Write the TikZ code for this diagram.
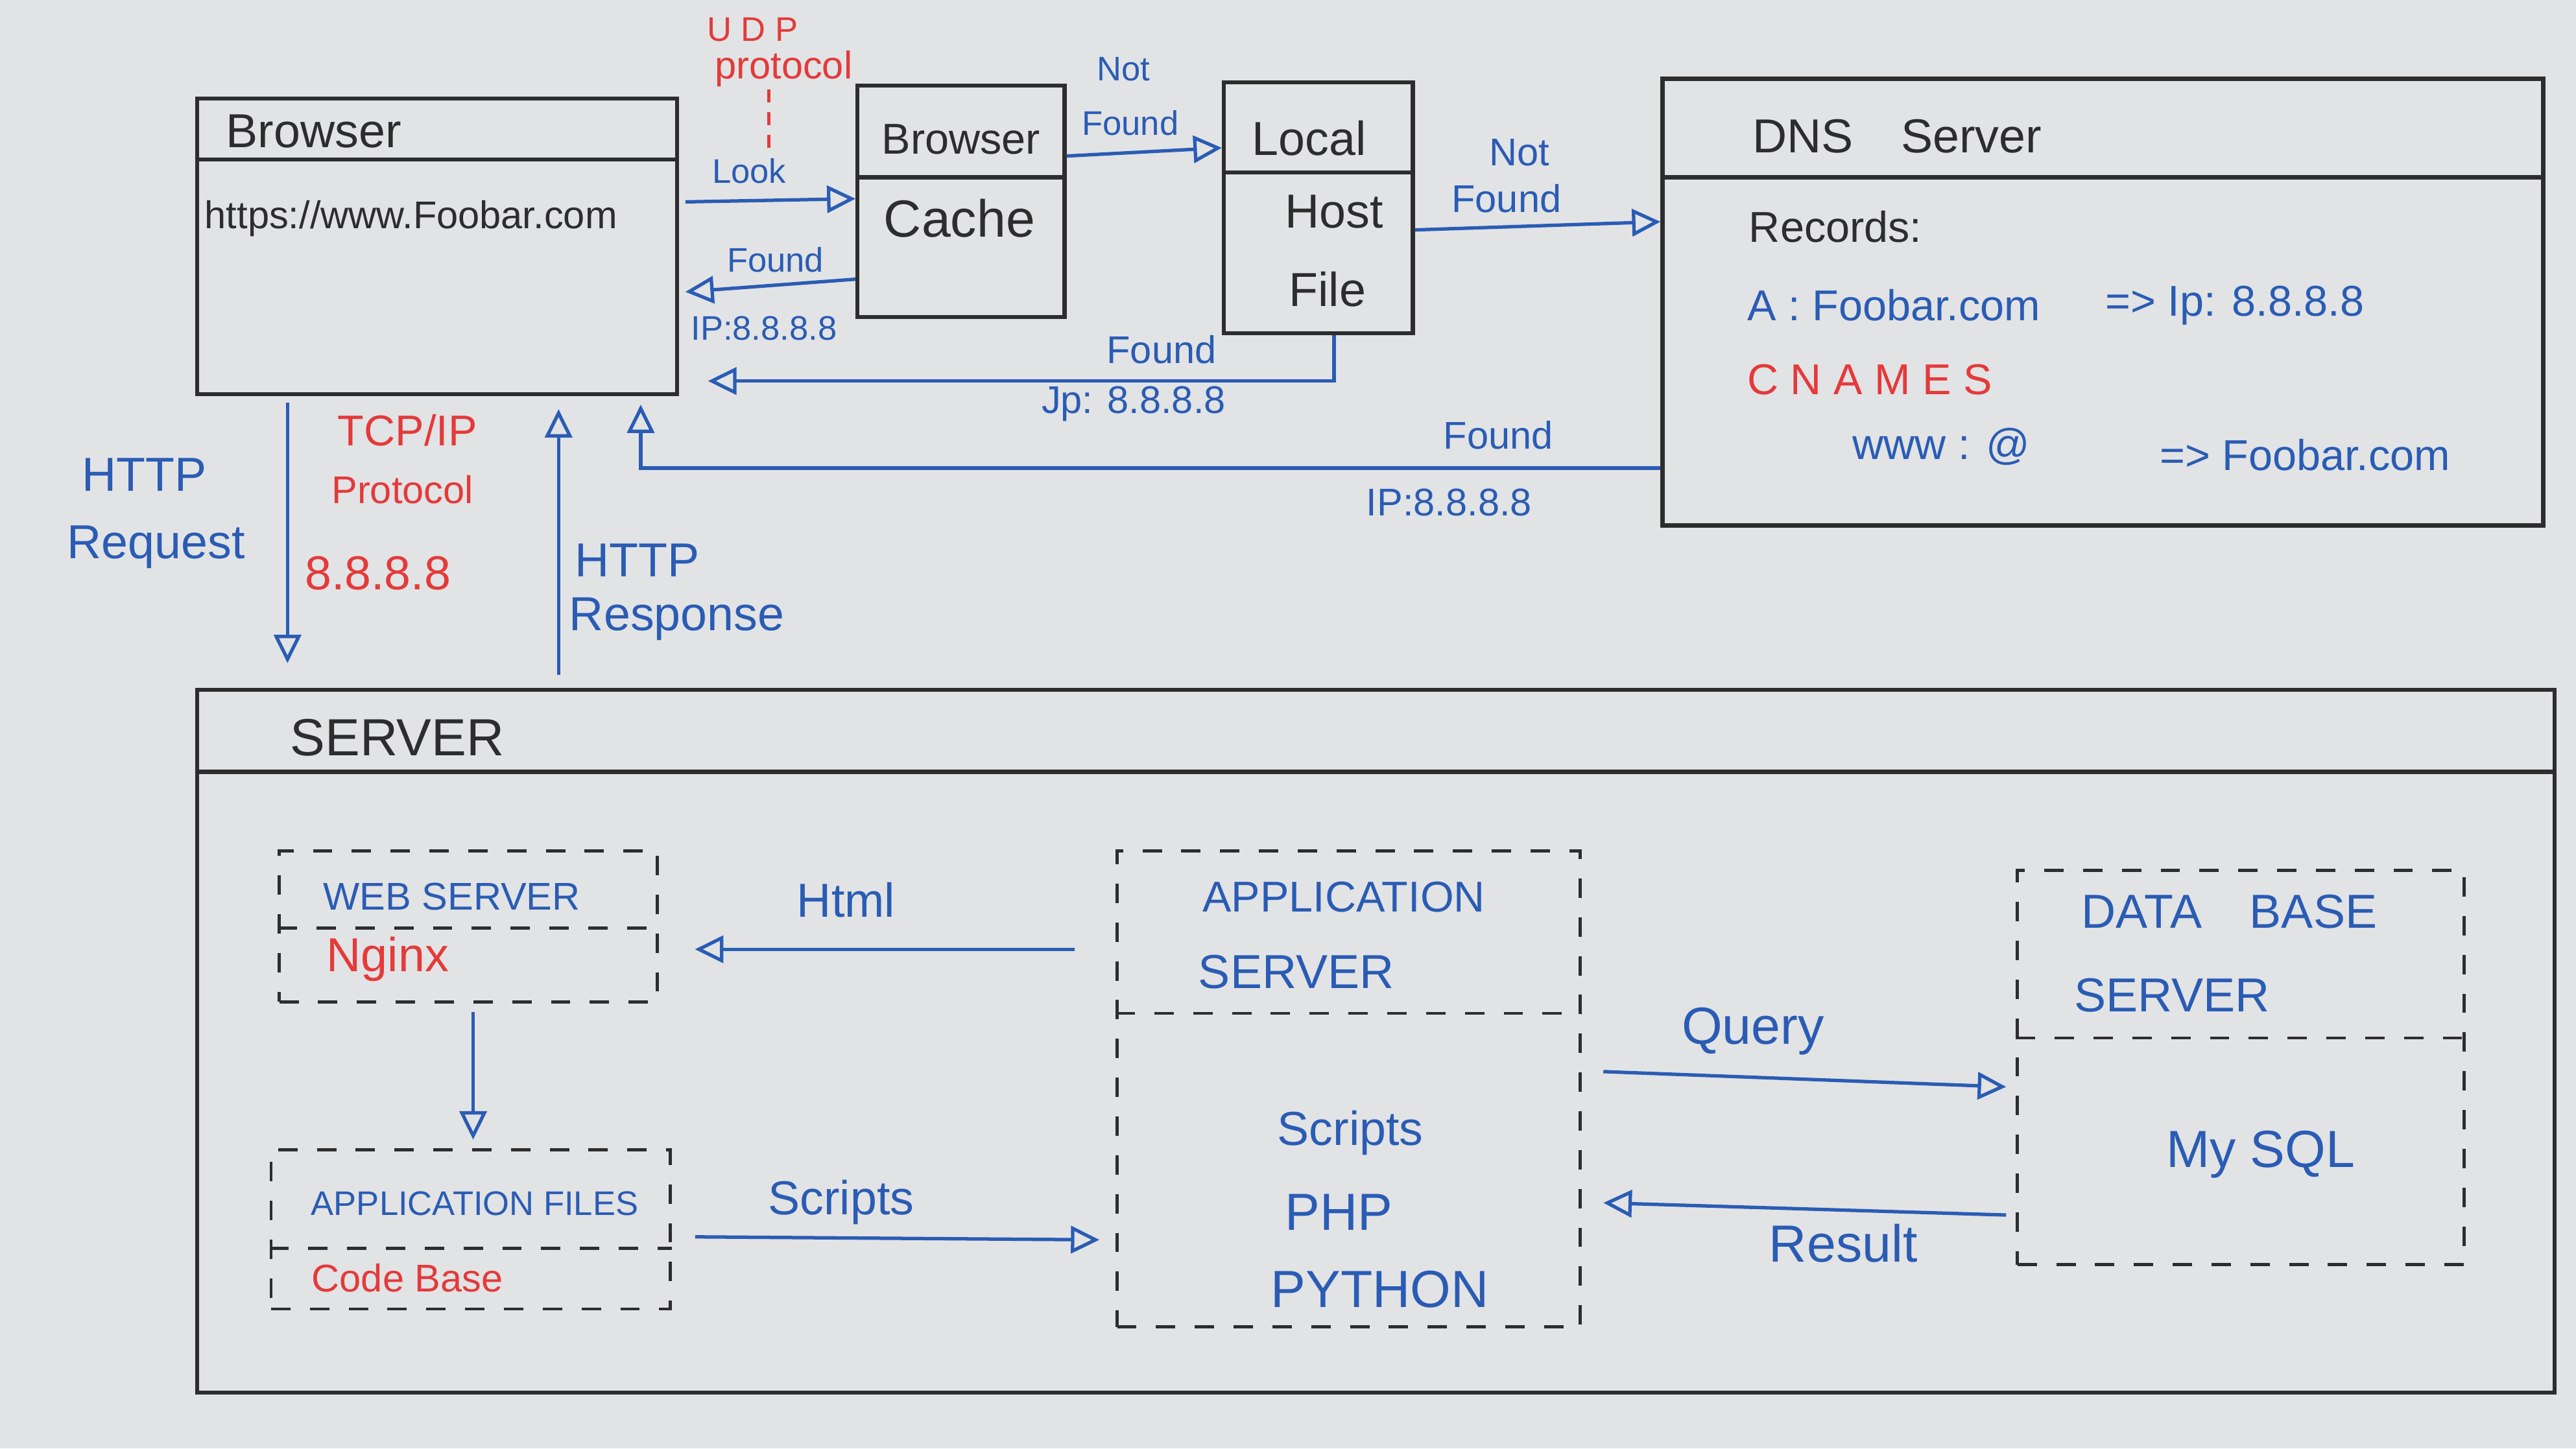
\documentclass[tikz,border=0pt]{standalone}
\usepackage{fontspec}
\setmainfont{Liberation Sans}
\usepackage{tikz}
\usetikzlibrary{positioning,fit,arrows.meta}
\definecolor{board}{RGB}{226,227,229}
\definecolor{inkblue}{RGB}{42,92,180}
\definecolor{inkred}{RGB}{228,58,58}
\definecolor{inkblack}{RGB}{45,45,45}
\tikzstyle{box} = [rectangle, draw=inkblack, line width=1.8pt, inner sep=0pt]
\tikzstyle{dbox} = [rectangle, draw=inkblack, line width=1.4pt, dash pattern=on 3mm off 3mm, inner sep=0pt]
\tikzstyle{divider} = [draw=inkblack, line width=1.8pt]
\tikzstyle{ddivider} = [draw=inkblack, line width=1.4pt, dash pattern=on 3mm off 3mm]
\tikzstyle{line} = [draw=inkblue, line width=1.5pt, -{Triangle[open,length=4.4mm,width=4.2mm]}]
\tikzstyle{bl} = [text=inkblue, inner sep=1pt]
\tikzstyle{rd} = [text=inkred, inner sep=1pt]
\tikzstyle{bk} = [text=inkblack, inner sep=1pt]
\tikzstyle{sz15} = [font=\fontsize{15}{18}\selectfont]
\tikzstyle{sz17} = [font=\fontsize{17}{20}\selectfont]
\tikzstyle{sz19} = [font=\fontsize{19}{23}\selectfont]
\tikzstyle{sz21} = [font=\fontsize{21}{25}\selectfont]
\tikzstyle{sz23} = [font=\fontsize{23}{27}\selectfont]

\begin{document}
\begin{tikzpicture}[x=0.254mm, y=-0.254mm]
    \fill [board] (0,0) rectangle (1568,882);
    \useasboundingbox (0,0) rectangle (1568,882);
    % Blocks
    \node [box, fit={(120,60) (412,240)}] (browser) {};
    \node [box, fit={(522,52) (648,193)}] (cache) {};
    \node [box, fit={(745,50) (860,203)}] (host) {};
    \node [box, fit={(1012,48) (1548,320)}] (dns) {};
    \node [box, fit={(120,420) (1555,848)}] (server) {};
    \node [dbox, fit={(170,518) (400,610)}] (web) {};
    \node [dbox, fit={(165,700) (408,797)}] (files) {};
    \node [dbox, fit={(680,518) (962,808)}] (app) {};
    \node [dbox, fit={(1228,530) (1500,770)}] (db) {};
    % Dividers
    \draw [divider] (browser.west |- 0,97) -- (browser.east |- 0,97);
    \draw [divider] (cache.west |- 0,108) -- (cache.east |- 0,108);
    \draw [divider] (host.west |- 0,105) -- (host.east |- 0,105);
    \draw [divider] (dns.west |- 0,108) -- (dns.east |- 0,108);
    \draw [divider] (server.west |- 0,470) -- (server.east |- 0,470);
    \draw [ddivider] (web.west |- 0,565) -- (web.east |- 0,565);
    \draw [ddivider] (files.west |- 0,760) -- (files.east |- 0,760);
    \draw [ddivider] (app.west |- 0,617) -- (app.east |- 0,617);
    \draw [ddivider] (db.west |- 0,632) -- (db.east |- 0,632);

    % Texts in the boxes
    \node [bk, sz21, anchor=west] (browsertitle) at (136,80) {Browser};
    \node [bk, sz17, anchor=west] (url) at (123,133) {https://www.Foobar.com};
    \node [bk, sz19] (cachetop) at (585,85) {Browser};
    \node [bk, sz23] (cachebot) at (584,133) {Cache};
    \node [bk, sz21] (local) at (797,84) {Local};
    \node [bk, sz21] (hostword) at (812,129) {Host};
    \node [bk, sz21] (file) at (808,176) {File};
    \node [bk, sz21, anchor=west] (dnstitle) at (1065,83) {DNS\quad Server};
    \node [bk, sz19, anchor=west] (records) at (1063,138) {Records:};
    \node [bl, sz19, anchor=west] (arec) at (1062,186) {A : Foobar.com};
    \node [bl, sz19, anchor=west] (aip) at (1280,186) {=> Ip: 8.8.8.8};
    \node [rd, sz19, anchor=west] (cnames) at (1062,231) {C N A M E S};
    \node [bl, sz19, anchor=west] (www) at (1126,272) {www : @};
    \node [bl, sz19, anchor=west] (wwwto) at (1313,277) {=> Foobar.com};
    \node [bk, sz23, anchor=west] (servertitle) at (175,449) {SERVER};
    \node [bl, sz17] (webtitle) at (275,546) {WEB SERVER};
    \node [rd, sz21] (nginx) at (236,584) {Nginx};
    \node [bl, sz15] (filestitle) at (289,733) {APPLICATION FILES};
    \node [rd, sz17] (codebase) at (248,778) {Code Base};
    \node [bl, sz19] (apptitle) at (818,546) {APPLICATION};
    \node [bl, sz21] (appsub) at (789,592) {SERVER};
    \node [bl, sz21] (scripts) at (822,690) {Scripts};
    \node [bl, sz23] (php) at (815,738) {PHP};
    \node [bl, sz23] (python) at (840,785) {PYTHON};
    \node [bl, sz21] (dbtitle) at (1357,555) {DATA\quad BASE};
    \node [bl, sz21] (dbsub) at (1322,606) {SERVER};
    \node [bl, sz23] (mysql) at (1376,703) {My SQL};

    % Labels
    \node [rd, sz15] (udp) at (458,18) {U D P};
    \node [rd, sz17] (udpproto) at (477,42) {protocol};
    \node [bl, sz15] (look) at (456,104) {Look};
    \node [bl, sz15] (found1) at (472,158) {Found};
    \node [bl, sz15] (ip1) at (465,200) {IP:8.8.8.8};
    \node [bl, sz15] (not2) at (684,42) {Not};
    \node [bl, sz15] (found2) at (688,75) {Found};
    \node [bl, sz17] (not3) at (925,93) {Not};
    \node [bl, sz17] (found3) at (917,121) {Found};
    \node [bl, sz17] (found4) at (707,213) {Found};
    \node [bl, sz17] (ip4) at (690,246) {Jp: 8.8.8.8};
    \node [bl, sz17] (found5) at (912,265) {Found};
    \node [bl, sz17] (ip5) at (882,306) {IP:8.8.8.8};
    \node [bl, sz21] (reqa) at (88,289) {HTTP};
    \node [bl, sz21] (reqb) at (95,333) {Request};
    \node [rd, sz19] (tcp) at (248,262) {TCP/IP};
    \node [rd, sz17] (tcpproto) at (245,298) {Protocol};
    \node [rd, sz21] (tcpip) at (230,349) {8.8.8.8};
    \node [bl, sz21] (respa) at (388,341) {HTTP};
    \node [bl, sz21] (respb) at (412,377) {Response};
    \node [bl, sz21] (html) at (515,548) {Html};
    \node [bl, sz21] (scriptslbl) at (512,732) {Scripts};
    \node [bl, sz23] (query) at (1067,628) {Query};
    \node [bl, sz23] (result) at (1122,757) {Result};

    % Lines
    \draw [inkred, line width=1.2pt, dash pattern=on 2mm off 1.5mm] (udpproto.south -| 468,0) -- (look.north -| 468,0);
    \path [line, shorten <=1mm] (browser.east |- 0,123) -- (cache.west |- 0,121);
    \path [line, shorten >=1mm] (cache.west |- 0,170) -- (browser.east |- 0,178);
    \path [line] (cache.east |- 0,95) -- (host.west |- 0,90);
    \path [line] (host.east |- 0,140) -- (dns.west |- 0,135);
    \path [line, shorten >=4.5mm] (host.south -| 812,0) |- (browser.east |- 0,232);
    \path [line, shorten >=1.3mm] (dns.west |- 0,285) -| (browser.south -| 390,0);
    \path [line, shorten <=1mm, shorten >=3.8mm] (browser.south -| 175,0) -- (server.north -| 175,0);
    \path [line, shorten <=2mm, shorten >=2mm] (server.north -| 340,0) -- (browser.south -| 340,0);
    \path [line, shorten <=6.3mm, shorten >=5.6mm] (app.west |- 0,578) -- (web.east |- 0,578);
    \path [line, shorten <=1.3mm, shorten >=1.3mm] (web.south -| 288,0) -- (files.north -| 288,0);
    \path [line, shorten <=3.6mm, shorten >=2.5mm] (files.east |- 0,753) -- (app.west |- 0,755);
    \path [line, shorten <=3.3mm, shorten >=1.5mm] (app.east |- 0,652) -- (db.west |- 0,662);
    \path [line, shorten <=1.5mm, shorten >=3.3mm] (db.west |- 0,740) -- (app.east |- 0,732);
\end{tikzpicture}
\end{document}
